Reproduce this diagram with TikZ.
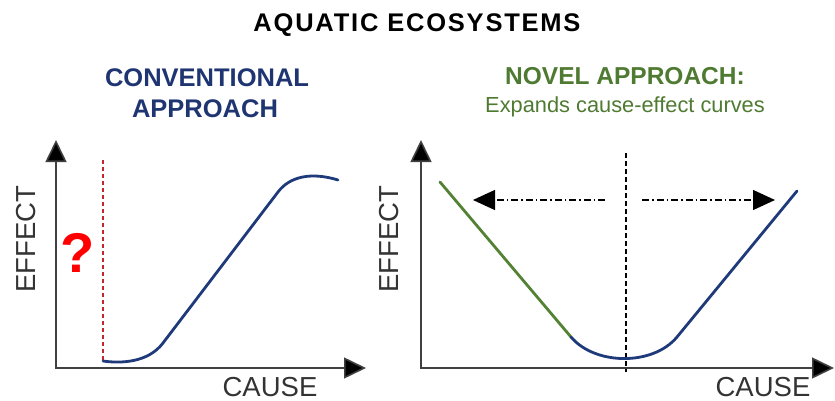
\documentclass[tikz,border=0pt]{standalone}
\usepackage{fontspec}
\setmainfont{Liberation Sans}
\newfontfamily\titlefont[LetterSpace=7]{Liberation Sans}
\usetikzlibrary{arrows.meta}
\definecolor{navy}{HTML}{1F3A7A}
\definecolor{navytext}{HTML}{1F3572}
\definecolor{grn}{HTML}{548235}
\definecolor{grntext}{HTML}{4F7A32}
\definecolor{axisgray}{HTML}{404040}
\definecolor{textgray}{HTML}{333333}
\definecolor{qred}{HTML}{FF0000}
\definecolor{dashred}{HTML}{C0282D}
\begin{document}
\begin{tikzpicture}[x=1pt,y=-1pt,
  axis/.style={draw=axisgray,line width=1.6pt,line cap=rect,-{Triangle[length=22pt,width=21pt,fill=black]}},
  curveline/.style={line width=2.8pt,line cap=round,line join=round},
  axislabel/.style={anchor=base,inner sep=0pt,text=textgray,font=\fontsize{27.5}{30}\selectfont},
  spread/.style={draw=black,line width=1.1pt,dash pattern=on 7pt off 3pt on 1.5pt off 3pt,-{Triangle[length=22pt,width=20pt]}},
  heading/.style={anchor=base,inner sep=0pt}]
\useasboundingbox (0,0) rectangle (835,401);

% titles
\node[heading,font=\titlefont\bfseries\fontsize{25.5}{28}\selectfont] (title) at (417,32) {AQUATIC ECOSYSTEMS};
\node[heading,text=navytext,font=\bfseries\fontsize{25.5}{30}\selectfont] (conv1) at (207,87) {CONVENTIONAL};
\node[heading,text=navytext,font=\bfseries\fontsize{25.5}{30}\selectfont] (conv2) at (205,118) {APPROACH};
\node[heading,text=grntext,font=\bfseries\fontsize{24.5}{30}\selectfont] (novel1) at (625,85) {NOVEL APPROACH:};
\node[heading,text=grntext,font=\fontsize{21.8}{26}\selectfont] (novel2) at (625,113) {Expands cause-effect curves};

% left panel
\coordinate (lo) at (56,368);
\coordinate (ltop) at (56,140);
\coordinate (lright) at (366,368);
\coordinate (rdtop) at (103,160);
\coordinate (rdbot) at (103,361);
\draw[draw=dashred,line width=1.2pt,dash pattern=on 4pt off 3pt] (rdtop) -- (rdbot);
\draw[axis] (lo) -- (ltop);
\draw[axis] (lo) -- (lright);
\draw[curveline,draw=navy] (103,361) .. controls (120,363.5) and (148,363) .. (163,343)
  -- (278,192) .. controls (290,176) and (312,172) .. (338,180);
\node[axislabel,rotate=90] (leffect) at (35,239) {EFFECT};
\node[axislabel] (lcause) at (270,396) {CAUSE};
\node[anchor=base,inner sep=0pt,text=qred,font=\bfseries\fontsize{56}{60}\selectfont] (qmark) at (78,272) {?};

% right panel
\coordinate (ro) at (421,368);
\coordinate (rtop) at (421,140);
\coordinate (rright) at (834,368);
\coordinate (vtop) at (626,153);
\coordinate (vbot) at (626,372);
\draw[draw=black,line width=1.1pt,dash pattern=on 5pt off 3pt] (vtop) -- (vbot);
\draw[axis] (ro) -- (rtop);
\draw[axis] (ro) -- (rright);
\draw[curveline,draw=grn] (440,182) -- (571,337);
\draw[curveline,draw=navy] (571,337) .. controls (595,365.5) and (653,366) .. (677,337) -- (797,191);
\coordinate (lstart) at (605,200);
\coordinate (lend) at (473,200);
\coordinate (rstart) at (642,200);
\coordinate (rend) at (775,200);
\draw[spread] (lstart) -- (lend);
\draw[spread] (rstart) -- (rend);
\node[axislabel,rotate=90] (reffect) at (398,239) {EFFECT};
\node[axislabel] (rcause) at (763,396) {CAUSE};
\end{tikzpicture}
\end{document}
